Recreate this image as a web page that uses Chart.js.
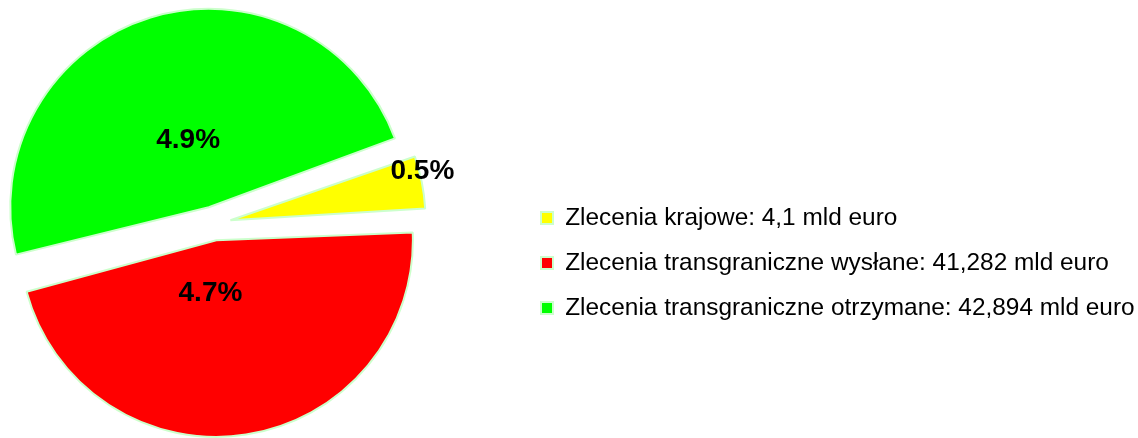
<!DOCTYPE html>
<html>
<head>
<meta charset="utf-8">
<script src="https://cdn.jsdelivr.net/npm/chart.js@4.4.1/dist/chart.umd.min.js"></script>
<style>
  html, body { margin: 0; padding: 0; background: #fff; overflow: hidden; }
  /* canvas starts left of the page so the pie sits near the left edge */
  #wrap { width: 1231px; height: 438px; position: relative; margin-left: -93px; }
</style>
</head>
<body>
<div id="wrap"><canvas id="payChart"></canvas></div>
<script>
const categories = [
    'Zlecenia krajowe: 4,1 mld euro',
    'Zlecenia transgraniczne wysłane: 41,282 mld euro',
    'Zlecenia transgraniczne otrzymane: 42,894 mld euro'
];
const amounts = [4.1, 41.282, 42.894];
const shareLabels = ['0.5%', '4.7%', '4.9%'];
const sliceColors = ['#ffff00', '#ff0000', '#00ff00'];

// where each percentage sits: fraction of radius, angle shift (deg)
const labelSpots = [
    { r: 1.015, da: -3 },
    { r: 0.272, da: 15 },
    { r: 0.354, da: 0 }
];

const sliceLabels = {
    id: 'sliceLabels',
    afterDatasetsDraw(chart) {
        const ctx = chart.ctx;
        const arcs = chart.getDatasetMeta(0).data;
        ctx.save();
        ctx.font = 'bold 28px "Liberation Sans", Arial, sans-serif';
        ctx.fillStyle = '#000';
        ctx.textAlign = 'center';
        ctx.textBaseline = 'middle';
        arcs.forEach((arc, i) => {
            const p = arc.getProps(['x', 'y', 'startAngle', 'endAngle', 'outerRadius', 'circumference']);
            const mid = (p.startAngle + p.endAngle) / 2;
            // ArcElement moves by offset/4 and grows the radius a bit
            const shift = (arc.options.offset || 0) / 4;
            const fix = 1 - Math.sin(Math.min(Math.PI, p.circumference || 0));
            const radius = p.outerRadius + shift * fix;
            const a = mid + labelSpots[i].da * Math.PI / 180;
            const d = labelSpots[i].r * radius;
            const x = p.x + Math.cos(mid) * shift + Math.cos(a) * d;
            const y = p.y + Math.sin(mid) * shift + Math.sin(a) * d;
            ctx.fillText(shareLabels[i], x, y);
        });
        ctx.restore();
    }
};

new Chart(document.getElementById('payChart'), {
    type: 'pie',
    data: {
        labels: categories,
        datasets: [{
            data: amounts,
            backgroundColor: sliceColors,
            borderColor: '#ccffcc',
            borderWidth: 2,
            offset: 68,
            hoverOffset: 0
        }]
    },
    options: {
        responsive: true,
        maintainAspectRatio: false,
        animation: false,
        rotation: 70.4,
        radius: 183,
        layout: { padding: { left: 0, top: 9, right: 4, bottom: 0 } },
        plugins: {
            legend: {
                position: 'right',
                align: 'center',
                title: { display: true, text: '', font: { size: 10 }, padding: { top: 67, bottom: 0 } },
                labels: {
                    boxWidth: 12,
                    boxHeight: 12,
                    padding: 20.5,
                    color: '#000',
                    font: { family: '"Liberation Sans", Arial, sans-serif', size: 24.4 }
                }
            },
            tooltip: { enabled: false }
        }
    },
    plugins: [sliceLabels]
});
</script>
</body>
</html>
